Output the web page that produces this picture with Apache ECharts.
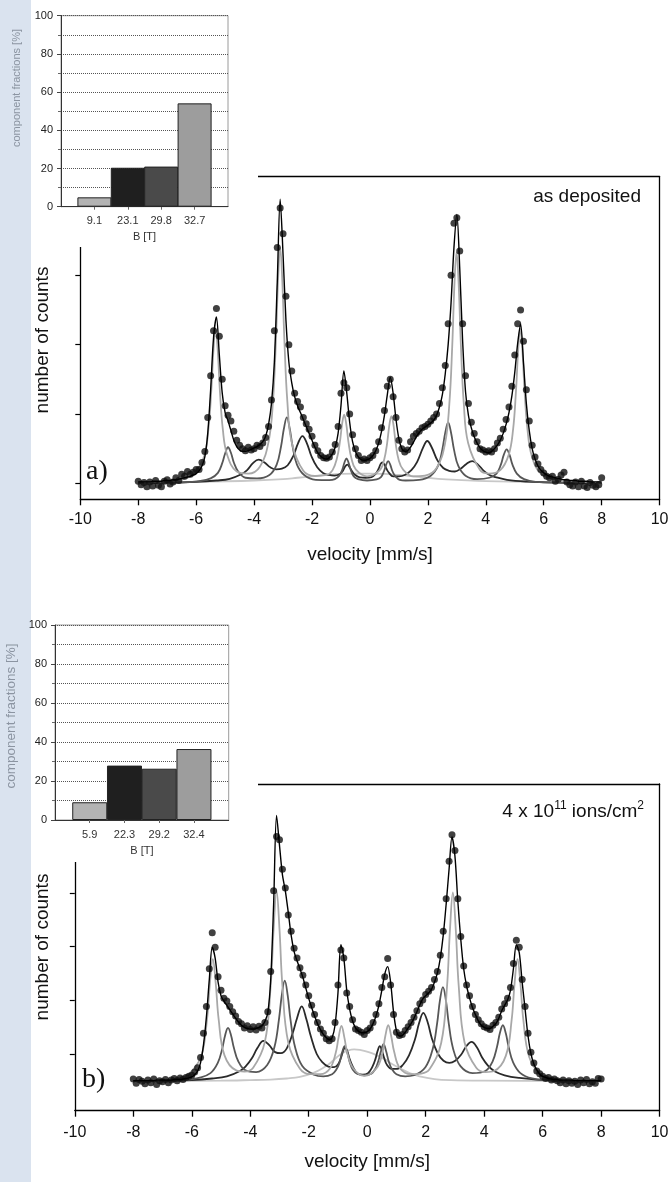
<!DOCTYPE html>
<html><head><meta charset="utf-8">
<script src="https://cdn.jsdelivr.net/npm/echarts@6/dist/echarts.min.js"></script>
<style>html,body{margin:0;padding:0;background:#fff}#c{width:670px;height:1182px}</style>
</head><body><div id="c"></div>
<script>
// ---------- data ----------
const velocity = [
-8,-7.9,-7.8,-7.7,-7.6,-7.5,-7.4,-7.3,-7.2,-7.1,
-7,-6.9,-6.8,-6.7,-6.6,-6.5,-6.4,-6.3,-6.2,-6.1,
-6,-5.9,-5.8,-5.7,-5.6,-5.5,-5.4,-5.3,-5.2,-5.1,
-5,-4.9,-4.8,-4.7,-4.6,-4.5,-4.4,-4.3,-4.2,-4.1,
-4,-3.9,-3.8,-3.7,-3.6,-3.5,-3.4,-3.3,-3.2,-3.1,
-3,-2.9,-2.8,-2.7,-2.6,-2.5,-2.4,-2.3,-2.2,-2.1,
-2,-1.9,-1.8,-1.7,-1.6,-1.5,-1.4,-1.3,-1.2,-1.1,
-1,-0.9,-0.8,-0.7,-0.6,-0.5,-0.4,-0.3,-0.2,-0.1,
0,0.1,0.2,0.3,0.4,0.5,0.6,0.7,0.8,0.9,
1,1.1,1.2,1.3,1.4,1.5,1.6,1.7,1.8,1.9,
2,2.1,2.2,2.3,2.4,2.5,2.6,2.7,2.8,2.9,
3,3.1,3.2,3.3,3.4,3.5,3.6,3.7,3.8,3.9,
4,4.1,4.2,4.3,4.4,4.5,4.6,4.7,4.8,4.9,
5,5.1,5.2,5.3,5.4,5.5,5.6,5.7,5.8,5.9,
6,6.1,6.2,6.3,6.4,6.5,6.6,6.7,6.8,6.9,
7,7.1,7.2,7.3,7.4,7.5,7.6,7.7,7.8,7.9,
8];

// (a) as deposited: measured counts and total fit
const countsA = [
.03,-.02,.01,-.05,.02,-.04,.04,-.03,-.05,.03,
.05,-.01,.02,.08,.04,.13,.10,.17,.13,.16,
.20,.20,.30,.46,.95,1.55,2.20,2.52,2.12,1.50,
1.12,.98,.90,.75,.62,.55,.50,.47,.52,.48,
.50,.55,.53,.58,.66,.82,1.20,2.20,3.40,3.97,
3.60,2.70,2.00,1.62,1.30,1.18,1.10,.95,.86,.78,
.68,.55,.47,.40,.37,.36,.38,.45,.56,.82,
1.30,1.45,1.38,1.00,.70,.50,.40,.33,.35,.33,
.37,.40,.47,.60,.80,1.05,1.40,1.50,1.25,.95,
.62,.50,.45,.48,.60,.68,.72,.75,.80,.82,
.85,.90,.95,1.00,1.15,1.38,1.70,2.30,3.00,3.75,
3.83,3.35,2.30,1.55,1.15,.88,.72,.60,.50,.48,
.45,.47,.45,.50,.58,.65,.78,.92,1.10,1.40,
1.85,2.30,2.50,2.05,1.35,.90,.55,.38,.28,.20,
.15,.10,.08,.10,.03,.06,.12,.16,.02,-.02,
-.04,.02,-.05,.03,-.04,-.06,.01,-.03,-.05,-.02,
.08];
const fitA = [
.02,.02,.02,.02,.02,.03,.03,.03,.03,.04,
.04,.04,.05,.05,.06,.07,.08,.09,.10,.12,
.14,.18,.25,.38,.72,1.35,2.10,2.40,1.85,1.30,
1.02,.90,.76,.62,.53,.48,.46,.46,.47,.49,
.51,.53,.56,.60,.68,.85,1.15,1.75,2.90,4.10,
3.30,2.35,1.75,1.45,1.25,1.12,1.02,.92,.82,.72,
.62,.52,.44,.39,.36,.35,.37,.42,.52,.72,
1.12,1.62,1.30,.88,.60,.46,.38,.34,.33,.34,
.36,.40,.47,.58,.75,.98,1.28,1.53,1.30,.92,
.64,.50,.46,.47,.52,.59,.67,.73,.78,.81,
.84,.87,.91,.98,1.10,1.28,1.58,2.00,2.60,3.40,
3.88,3.10,2.05,1.32,.98,.80,.67,.58,.51,.47,
.45,.44,.46,.50,.55,.62,.72,.85,1.02,1.26,
1.60,2.02,2.30,1.75,1.15,.76,.50,.35,.25,.19,
.15,.12,.10,.09,.08,.07,.06,.05,.05,.04,
.04,.04,.03,.03,.03,.03,.02,.02,.02,.02,
.02];
// (a) sub-spectra [velocity, counts]
const compA_327 = [[-8,.01],[-7,.03],[-6.2,.10],[-5.75,.36],[-5.58,.77],[-5.48,1.32],[-5.40,1.94],[-5.33,2.23],[-5.26,1.95],[-5.18,1.33],[-5.08,.78],[-4.93,.41],[-4.6,.17],[-4.2,.14],[-3.8,.24],[-3.5,.60],[-3.35,1.17],[-3.25,2.02],[-3.17,2.96],[-3.10,3.40],[-3.03,2.96],[-2.95,2.02],[-2.85,1.17],[-2.70,.59],[-2.3,.18],[-1.9,.105],[-1.5,.12],[-1.29,.19],[-1.14,.36],[-1.04,.59],[-0.96,.86],[-0.89,.99],[-0.82,.86],[-0.74,.59],[-0.64,.36],[-0.49,.20],[-0.1,.10],[0.34,.19],[0.49,.34],[0.59,.57],[0.67,.84],[0.74,.97],[0.81,.85],[0.89,.57],[0.99,.34],[1.14,.20],[1.5,.10],[1.9,.11],[2.3,.22],[2.59,.57],[2.74,1.14],[2.84,1.97],[2.92,2.90],[2.99,3.33],[3.06,2.90],[3.14,1.99],[3.24,1.15],[3.39,.58],[3.8,.19],[4.1,.14],[4.5,.19],[4.79,.41],[4.94,.77],[5.04,1.32],[5.12,1.94],[5.19,2.23],[5.26,1.94],[5.34,1.32],[5.44,.77],[5.59,.39],[5.9,.14],[6.5,.05],[7.2,.02],[8,.01]];
const compA_298 = [[-8,.01],[-6.5,.01],[-5.9,.03],[-5.5,.07],[-5.25,.15],[-5.1,.29],[-5.0,.43],[-4.9,.52],[-4.8,.44],[-4.7,.30],[-4.55,.17],[-4.3,.08],[-3.9,.07],[-3.47,.12],[-3.22,.27],[-3.07,.53],[-2.97,.79],[-2.87,.95],[-2.77,.79],[-2.67,.53],[-2.52,.27],[-2.27,.12],[-1.87,.05],[-1.41,.045],[-1.21,.06],[-1.06,.11],[-0.96,.19],[-0.88,.30],[-0.81,.36],[-0.74,.30],[-0.66,.19],[-0.56,.10],[-0.41,.06],[-0.1,.04],[0.23,.056],[0.38,.09],[0.48,.17],[0.56,.27],[0.63,.32],[0.70,.27],[0.78,.17],[0.88,.10],[1.03,.05],[1.23,.04],[1.7,.05],[2.1,.11],[2.35,.25],[2.5,.49],[2.6,.73],[2.7,.88],[2.8,.73],[2.9,.49],[3.05,.25],[3.3,.11],[3.7,.06],[4.12,.08],[4.37,.14],[4.52,.27],[4.62,.41],[4.72,.49],[4.82,.41],[4.92,.27],[5.07,.14],[5.32,.06],[5.72,.02],[6.5,.01],[8,.005]];
const compA_231 = [[-8,.01],[-7,.01],[-6,.02],[-5.3,.04],[-4.84,.065],[-4.44,.13],[-4.24,.19],[-4.04,.29],[-3.84,.34],[-3.64,.30],[-3.44,.23],[-3.24,.20],[-3.04,.21],[-2.84,.26],[-2.64,.40],[-2.48,.58],[-2.33,.68],[-2.18,.58],[-2.02,.39],[-1.82,.23],[-1.62,.15],[-1.42,.12],[-1.22,.11],[-1.05,.13],[-0.95,.17],[-0.86,.24],[-0.78,.27],[-0.70,.23],[-0.61,.17],[-0.51,.12],[-0.35,.085],[-0.15,.08],[0.05,.09],[0.2,.14],[0.3,.21],[0.37,.28],[0.43,.30],[0.5,.27],[0.57,.21],[0.66,.15],[0.8,.10],[1.0,.10],[1.2,.12],[1.43,.19],[1.63,.31],[1.83,.51],[1.98,.61],[2.13,.52],[2.33,.33],[2.53,.22],[2.73,.18],[2.93,.17],[3.13,.21],[3.33,.28],[3.53,.32],[3.73,.27],[3.93,.18],[4.13,.12],[4.33,.09],[4.73,.05],[5.4,.025],[6.5,.01],[8,.005]];
const compA_91 = [[-8,.01],[-6,.02],[-4,.04],[-3,.06],[-2.5,.08],[-2,.10],[-1.5,.12],[-1,.135],[-0.5,.14],[0,.14],[0.5,.135],[1,.12],[1.5,.10],[2,.08],[2.5,.06],[3,.05],[4,.03],[6,.015],[8,.01]];

// (b) 4 x 10^11 ions/cm^2
const countsB = [
.05,-.03,.04,.01,-.04,.03,-.02,.05,-.05,.02,
.00,.04,-.02,.03,.06,.02,.07,.04,.08,.10,
.12,.18,.26,.45,.90,1.40,2.10,2.77,2.50,1.95,
1.70,1.55,1.50,1.40,1.30,1.22,1.12,1.08,1.00,1.04,
.97,1.02,.96,1.03,1.00,1.10,1.30,2.05,3.55,4.56,
4.50,3.95,3.60,3.10,2.80,2.48,2.30,2.12,1.98,1.80,
1.60,1.42,1.25,1.10,.98,.90,.80,.76,.80,1.10,
1.80,2.45,2.30,1.65,1.40,1.15,.98,.95,.92,.88,
.95,1.00,1.10,1.25,1.45,1.75,1.95,2.29,1.80,1.25,
.92,.86,.88,.95,1.02,1.10,1.20,1.32,1.45,1.52,
1.62,1.68,1.75,1.90,2.05,2.35,2.80,3.40,4.10,4.59,
4.30,3.40,2.70,2.15,1.80,1.60,1.40,1.25,1.15,1.08,
1.02,1.00,.97,1.05,1.10,1.20,1.35,1.45,1.55,1.75,
2.20,2.63,2.50,1.90,1.40,.90,.55,.35,.20,.15,
.10,.06,.08,.03,.05,.02,-.02,.03,-.04,.02,
-.03,.01,-.05,.03,-.02,.04,-.04,.00,-.03,.06,
.05];
const fitB = [
.02,.02,.02,.02,.02,.02,.02,.02,.03,.03,
.03,.03,.03,.03,.04,.04,.04,.05,.06,.07,
.09,.13,.20,.35,.68,1.20,1.90,2.50,2.30,1.85,
1.60,1.50,1.42,1.34,1.26,1.18,1.11,1.05,1.01,.99,
.98,.98,.99,1.01,1.04,1.12,1.28,1.90,3.30,4.95,
4.40,3.85,3.55,3.15,2.72,2.42,2.25,2.10,1.94,1.74,
1.55,1.38,1.22,1.08,.97,.88,.82,.78,.82,1.05,
1.65,2.55,2.30,1.70,1.35,1.13,1.00,.94,.91,.91,
.93,.98,1.08,1.22,1.42,1.70,2.00,2.14,1.85,1.30,
.95,.85,.86,.92,1.00,1.08,1.18,1.30,1.43,1.54,
1.60,1.65,1.72,1.85,2.02,2.30,2.72,3.30,3.95,4.55,
4.20,3.35,2.65,2.10,1.78,1.56,1.38,1.25,1.13,1.05,
1.01,.99,.99,1.03,1.08,1.18,1.32,1.42,1.52,1.70,
2.10,2.55,2.40,1.85,1.35,.85,.52,.33,.22,.14,
.10,.08,.06,.05,.04,.04,.03,.03,.03,.03,
.03,.02,.02,.02,.02,.02,.02,.02,.02,.02,
.02];
const compB_324 = [[-8,.01],[-7,.03],[-6.3,.09],[-6.08,.15],[-5.68,.47],[-5.48,1.15],[-5.38,1.83],[-5.28,2.28],[-5.18,1.83],[-5.08,1.16],[-4.88,.49],[-4.48,.21],[-4.2,.19],[-3.9,.26],[-3.5,.74],[-3.3,1.79],[-3.2,2.84],[-3.1,3.55],[-3.0,2.84],[-2.9,1.79],[-2.7,.73],[-2.3,.24],[-1.95,.14],[-1.6,.14],[-1.28,.24],[-1.08,.53],[-0.98,.82],[-0.88,1.04],[-0.78,.82],[-0.68,.53],[-0.48,.25],[-0.1,.11],[0.32,.25],[0.52,.54],[0.62,.85],[0.72,1.05],[0.82,.85],[0.92,.56],[1.12,.25],[1.5,.14],[1.85,.15],[2.13,.23],[2.53,.72],[2.73,1.77],[2.83,2.82],[2.93,3.52],[3.03,2.82],[3.13,1.78],[3.33,.73],[3.73,.26],[4.05,.18],[4.34,.20],[4.74,.48],[4.94,1.15],[5.04,1.83],[5.14,2.28],[5.24,1.83],[5.34,1.15],[5.54,.46],[5.94,.13],[6.4,.06],[7.2,.02],[8,.01]];
const compB_292 = [[-8,.01],[-6.8,.02],[-6.2,.03],[-5.76,.07],[-5.36,.16],[-5.11,.35],[-4.96,.61],[-4.86,.86],[-4.76,1.0],[-4.66,.87],[-4.56,.63],[-4.41,.38],[-4.16,.21],[-3.8,.18],[-3.42,.31],[-3.17,.65],[-3.02,1.15],[-2.92,1.61],[-2.82,1.88],[-2.72,1.61],[-2.62,1.14],[-2.47,.65],[-2.22,.29],[-1.82,.13],[-1.5,.10],[-1.2,.14],[-1.05,.23],[-0.95,.35],[-0.86,.54],[-0.77,.66],[-0.68,.54],[-0.59,.35],[-0.49,.22],[-0.35,.15],[-0.1,.12],[0.14,.15],[0.28,.24],[0.38,.38],[0.47,.57],[0.56,.70],[0.65,.56],[0.74,.37],[0.84,.24],[1.0,.14],[1.3,.10],[1.6,.12],[1.99,.27],[2.24,.61],[2.39,1.08],[2.49,1.52],[2.59,1.76],[2.69,1.52],[2.79,1.08],[2.94,.61],[3.19,.29],[3.6,.16],[4.04,.20],[4.29,.38],[4.44,.65],[4.54,.91],[4.64,1.05],[4.74,.90],[4.84,.64],[4.99,.36],[5.24,.16],[5.64,.06],[6.2,.03],[7,.01],[8,.01]];
const compB_223 = [[-8,.01],[-7,.02],[-6,.03],[-5.3,.06],[-4.8,.10],[-4.35,.20],[-4.15,.29],[-3.95,.43],[-3.75,.63],[-3.55,.76],[-3.35,.68],[-3.15,.55],[-2.95,.53],[-2.75,.62],[-2.55,.90],[-2.4,1.18],[-2.24,1.40],[-2.08,1.16],[-1.93,.85],[-1.73,.52],[-1.53,.36],[-1.33,.28],[-1.13,.27],[-1.0,.32],[-0.9,.44],[-0.82,.58],[-0.75,.64],[-0.68,.57],[-0.6,.42],[-0.5,.29],[-0.35,.16],[-0.15,.13],[0.03,.16],[0.18,.28],[0.28,.42],[0.36,.58],[0.43,.66],[0.5,.59],[0.58,.44],[0.68,.31],[0.83,.24],[1.03,.24],[1.23,.32],[1.43,.49],[1.63,.78],[1.78,1.10],[1.92,1.28],[2.06,1.12],[2.21,.81],[2.41,.53],[2.61,.39],[2.81,.35],[3.01,.39],[3.21,.50],[3.39,.66],[3.57,.74],[3.75,.64],[3.93,.45],[4.13,.30],[4.37,.19],[4.7,.12],[5.2,.07],[5.8,.04],[6.6,.02],[8,.01]];
const compB_59 = [[-8,.01],[-5,.02],[-4,.03],[-3.3,.04],[-2.75,.06],[-2.3,.09],[-1.82,.17],[-1.5,.26],[-1.28,.34],[-1.05,.45],[-0.88,.52],[-0.65,.58],[-0.45,.60],[-0.25,.59],[0.05,.55],[0.3,.50],[0.59,.42],[0.85,.33],[1.12,.25],[1.45,.16],[1.79,.10],[2.3,.05],[2.86,.03],[4,.02],[8,.01]];

// insets: hyperfine field components
const fieldsA = ['9.1','23.1','29.8','32.7'];
const fractionsA = [4.9, 20.4, 21.0, 54.1];
const fieldsB = ['5.9','22.3','29.2','32.4'];
const fractionsB = [9.1, 27.9, 26.3, 36.4];
const countTicksA = [0,1,2,3,4];
const countTicksB = [0.51,1.51,2.51,3.51,4.51];

// ---------- styling ----------
const FONT = '"Liberation Sans", Arial, sans-serif';
const barColors = ['#b3b3b3','#1f1f1f','#4a4a4a','#9d9d9d'];
const C_LIGHT = '#a8a8a8', C_DARK = '#575757', C_BLACK = '#2a2a2a', C_PALE = '#c8c8c8';

const chart = echarts.init(document.getElementById('c'), null, {renderer:'canvas', width:670, height:1182});

function mainX(gi, margin, gap){ return {
  type:'value', gridIndex:gi, min:-10, max:10, interval:2,
  axisLine:{show:true,onZero:false,lineStyle:{color:'#000',width:1.3}},
  axisTick:{show:true,inside:false,length:6,lineStyle:{color:'#000',width:1.3}},
  axisLabel:{fontFamily:FONT,fontSize:16,color:'#111',margin:margin},
  splitLine:{show:false},
  name:'velocity [mm/s]', nameLocation:'middle', nameGap:gap,
  nameTextStyle:{fontFamily:FONT,fontSize:19,color:'#111'}
};}
function frameX(gi){ return {type:'value',gridIndex:gi,position:'top',min:-10,max:10,
  axisLine:{show:true,onZero:false,lineStyle:{color:'#000',width:1.3}},axisTick:{show:false},axisLabel:{show:false},splitLine:{show:false}}; }
function mainY(gi,min,max,ticks){ return {type:'value',gridIndex:gi,min:min,max:max,
  axisLine:{show:true,onZero:false,lineStyle:{color:'#000',width:1.3}},
  axisTick:{show:true,inside:false,length:5,customValues:ticks,lineStyle:{color:'#000',width:1.2}},
  axisLabel:{show:false},splitLine:{show:false}}; }
function frameY(gi,min,max){ return {type:'value',gridIndex:gi,position:'right',min:min,max:max,
  axisLine:{show:true,onZero:false,lineStyle:{color:'#000',width:1.3}},axisTick:{show:false},axisLabel:{show:false},splitLine:{show:false}}; }
function insetX(gi,fields){ return {type:'value',gridIndex:gi,min:0,max:5,z:11,
  axisLine:{show:true,onZero:false,lineStyle:{color:'#333',width:1}},
  axisTick:{show:true,length:3,customValues:[1,2,3,4],lineStyle:{color:'#666'}},
  axisLabel:{customValues:[1,2,3,4],formatter:function(v){return fields[Math.round(v)-1];},fontFamily:FONT,fontSize:11,color:'#333',margin:9},
  splitLine:{show:false},
  name:'B [T]',nameLocation:'middle',nameGap:25,nameTextStyle:{fontFamily:FONT,fontSize:11,color:'#333'}}; }
function insetY(gi){ return {type:'value',gridIndex:gi,min:0,max:100,interval:20,z:11,
  axisLine:{show:true,onZero:false,lineStyle:{color:'#333',width:1}},
  axisTick:{show:true,length:4,lineStyle:{color:'#444'}},
  minorTick:{show:true,splitNumber:2,length:3,lineStyle:{color:'#666'}},
  axisLabel:{fontFamily:FONT,fontSize:11,color:'#222',margin:8},
  splitLine:{show:true,lineStyle:{type:'dotted',color:'#555',width:1}},
  minorSplitLine:{show:true,lineStyle:{type:'dotted',color:'#555',width:1}}}; }

function comp(data,color,xi,yi){ return {type:'line',data:data,xAxisIndex:xi,yAxisIndex:yi,showSymbol:false,
  smooth:0.4,lineStyle:{color:color,width:1.8},z:2,silent:true}; }
function dots(vals,xi,yi){ return {type:'scatter',data:velocity.map(function(v,i){return [v,vals[i]];}),
  xAxisIndex:xi,yAxisIndex:yi,symbolSize:7,itemStyle:{color:'#111'},z:3,silent:true}; }
function fit(vals,xi,yi){ return {type:'line',data:velocity.map(function(v,i){return [v,vals[i]];}),
  xAxisIndex:xi,yAxisIndex:yi,showSymbol:false,smooth:0.3,lineStyle:{color:'#000',width:1.4},z:4,silent:true}; }
function bars(fr,xi,yi,w){ return {type:'bar',xAxisIndex:xi,yAxisIndex:yi,barWidth:w,z:12,silent:true,
  data:fr.map(function(f,i){return {value:[i+1,f],itemStyle:{color:barColors[i],borderColor:'#222',borderWidth:1}};})}; }

const gridBase = {containLabel:false, outerBoundsMode:'none'};
const option = {
  animation:false,
  backgroundColor:'#fff',
  grid:[
    Object.assign({left:80.3,top:176.7,width:579.3,height:322.6},gridBase),
    Object.assign({left:74.8,top:784,width:584.8,height:326.7},gridBase),
    Object.assign({left:61,top:15.7,width:167,height:191,show:true,backgroundColor:'#fff',borderColor:'#9a9a9a',borderWidth:1,z:10},gridBase),
    Object.assign({left:55,top:625,width:173.7,height:195,show:true,backgroundColor:'#fff',borderColor:'#9a9a9a',borderWidth:1,z:10},gridBase)
  ],
  xAxis:[mainX(0,12,46),frameX(0),mainX(1,14,42),frameX(1),insetX(2,fieldsA),insetX(3,fieldsB)],
  yAxis:[mainY(0,-0.231,4.423,countTicksA),frameY(0,-0.231,4.423),mainY(1,-0.539,5.536,countTicksB),frameY(1,-0.539,5.536),insetY(2),insetY(3)],
  series:[
    comp(compA_91,C_PALE,0,0), comp(compA_231,C_BLACK,0,0), comp(compA_298,C_DARK,0,0), comp(compA_327,C_LIGHT,0,0),
    dots(countsA,0,0), fit(fitA,0,0),
    comp(compB_59,C_PALE,2,2), comp(compB_223,C_BLACK,2,2), comp(compB_292,C_DARK,2,2), comp(compB_324,C_LIGHT,2,2),
    dots(countsB,2,2), fit(fitB,2,2),
    bars(fractionsA,4,4,34), bars(fractionsB,5,5,35)
  ],
  graphic:[
    {type:'rect',shape:{x:0,y:0,width:31,height:1182},style:{fill:'#dae3ef'},z:1,silent:true},
    {type:'rect',shape:{x:31,y:0,width:227,height:247},style:{fill:'#fff'},z:5,silent:true},
    {type:'rect',shape:{x:31,y:590,width:227,height:272},style:{fill:'#fff'},z:5,silent:true},
    {type:'text',x:17,y:88,rotation:Math.PI/2,z:20,style:{text:'component fractions [%]',font:'11px '+FONT,fill:'#8b94a1',align:'center',verticalAlign:'middle'}},
    {type:'text',x:11,y:716,rotation:Math.PI/2,z:20,style:{text:'component fractions [%]',font:'13.5px '+FONT,fill:'#8b94a1',align:'center',verticalAlign:'middle'}},
    {type:'text',x:43,y:340,rotation:Math.PI/2,z:20,style:{text:'number of counts',font:'19px '+FONT,fill:'#111',align:'center',verticalAlign:'middle'}},
    {type:'text',x:43,y:947,rotation:Math.PI/2,z:20,style:{text:'number of counts',font:'19px '+FONT,fill:'#111',align:'center',verticalAlign:'middle'}},
    {type:'text',x:86,y:472,z:20,style:{text:'a)',font:'28px "Liberation Serif", "Times New Roman", serif',fill:'#111',align:'left',verticalAlign:'middle'}},
    {type:'text',x:82,y:1080,z:20,style:{text:'b)',font:'28px "Liberation Serif", "Times New Roman", serif',fill:'#111',align:'left',verticalAlign:'middle'}},
    {type:'text',x:641,y:197,z:20,style:{text:'as deposited',font:'19px '+FONT,fill:'#111',align:'right',verticalAlign:'middle'}},
    {type:'text',x:644,y:812,z:20,style:{text:'4 x 10{sup|11} ions/cm{sup|2}',font:'19px '+FONT,fill:'#111',align:'right',verticalAlign:'middle',
      rich:{sup:{fontSize:12,fontFamily:FONT,fill:'#111',verticalAlign:'top',lineHeight:24}}}}
  ]
};
chart.setOption(option);
</script>
</body></html>
